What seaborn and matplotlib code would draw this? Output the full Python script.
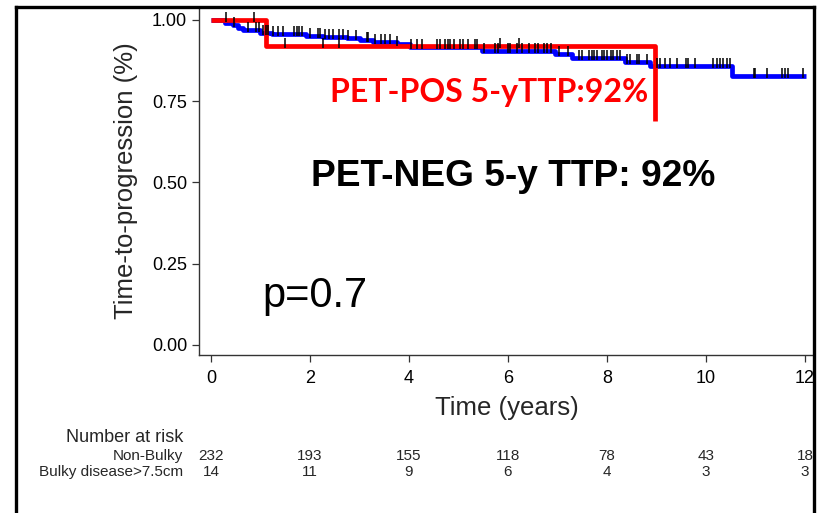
import numpy as np
import pandas as pd
import matplotlib
matplotlib.use("Agg")
import matplotlib.pyplot as plt
import seaborn as sns
from matplotlib.lines import Line2D
from matplotlib.path import Path
from matplotlib.transforms import blended_transform_factory

# Kaplan-Meier step curves (time in years, probability free of progression)
neg_times = [0.0, 0.28, 0.45, 0.55, 0.65, 0.99, 1.23, 1.93, 2.27, 2.74, 3.01,
             3.28, 3.75, 4.02, 5.47, 6.95, 7.29, 8.36, 8.87, 10.52, 12.02]
neg_surv = [1.000, 0.992, 0.985, 0.975, 0.969, 0.961, 0.957, 0.952, 0.948,
            0.944, 0.938, 0.932, 0.926, 0.916, 0.906, 0.894, 0.882, 0.870,
            0.857, 0.829, 0.829]

pos_times = [0.0, 1.12, 8.97]
pos_surv = [1.00, 0.92, 0.69]

# Censoring times
neg_censor = [0.47, 0.75, 0.92, 0.98, 1.06, 1.11, 1.16, 1.25, 1.36, 1.46, 1.68,
              1.73, 1.78, 1.83, 2.00, 2.17, 2.20, 2.30, 2.39, 2.46, 2.59, 2.66,
              2.77, 2.94, 3.15, 3.18, 3.31, 3.43, 3.52, 3.62, 3.75, 4.05, 4.16,
              4.26, 4.56, 4.63, 4.73, 4.79, 4.83, 4.90, 5.03, 5.10, 5.20, 5.33,
              5.37, 5.52, 5.74, 5.80, 6.01, 6.05, 6.18, 6.28, 6.43, 6.55, 6.61,
              6.73, 6.79, 6.86, 7.04, 7.22, 7.44, 7.49, 7.64, 7.69, 7.74, 7.80,
              7.89, 7.94, 7.99, 8.08, 8.13, 8.20, 8.26, 8.40, 8.46, 8.60, 8.65,
              8.81, 9.00, 9.07, 9.17, 9.27, 9.41, 9.60, 9.64, 9.78, 10.15, 10.22,
              10.28, 10.35, 10.42, 10.48, 10.96, 10.99, 11.23, 11.53, 11.60,
              11.66, 11.95]
pos_censor = [0.31, 0.87, 1.49, 2.27, 2.58, 5.84, 6.22]

# Number at risk table
risk_years = [0, 2, 4, 6, 8, 10, 12]
risk_nonbulky = [232, 193, 155, 118, 78, 43, 18]
risk_bulky = [14, 11, 9, 6, 4, 3, 3]
risk_groups = ["Non-Bulky", "Bulky disease>7.5cm"]


def step_at(times, surv, t):
    idx = np.searchsorted(np.asarray(times), np.asarray(t), side="right") - 1
    return np.asarray(surv)[idx]


sns.set_theme(style="white")
plt.rcParams["font.family"] = ["Liberation Sans", "DejaVu Sans"]

W, H = 818, 513
fig = plt.figure(figsize=(W / 100, H / 100), dpi=100)
ax = fig.add_axes([199 / W, 1 - 355 / H, (814 - 199) / W, (355 - 7) / H])

neg_df = pd.DataFrame({"time": neg_times, "surv": neg_surv})
pos_df = pd.DataFrame({"time": pos_times, "surv": pos_surv})

sns.lineplot(data=neg_df, x="time", y="surv", ax=ax, color="#0000ff",
             linewidth=3.4, drawstyle="steps-post", estimator=None,
             solid_capstyle="butt", zorder=2)
sns.lineplot(data=pos_df, x="time", y="surv", ax=ax, color="#ff0000",
             linewidth=3.4, drawstyle="steps-post", estimator=None,
             solid_capstyle="butt", zorder=3)

tick_marker = Path([(0, -0.3), (0, 1.0)], [Path.MOVETO, Path.LINETO])
sns.scatterplot(x=neg_censor, y=step_at(neg_times, neg_surv, neg_censor),
                ax=ax, marker=tick_marker, s=130, color="black",
                edgecolor="black", linewidth=1.1, zorder=4)
sns.scatterplot(x=pos_censor, y=step_at(pos_times, pos_surv, pos_censor),
                ax=ax, marker=tick_marker, s=130, color="black",
                edgecolor="black", linewidth=1.1, zorder=4)

ax.set_xlim(-0.24, 12.18)
ax.set_ylim(-0.031, 1.04)
ax.set_xticks(risk_years)
ax.set_yticks([0, 0.25, 0.5, 0.75, 1.0])
ax.set_yticklabels(["0.00", "0.25", "0.50", "0.75", "1.00"])
ax.tick_params(axis="both", which="major", direction="out", length=5,
               width=0.9, color="#333333", labelsize=13, labelcolor="black",
               bottom=True, left=True)
ax.tick_params(axis="x", pad=6)
for side in ("top", "right"):
    ax.spines[side].set_visible(False)
for side in ("left", "bottom"):
    ax.spines[side].set_color("#333333")
    ax.spines[side].set_linewidth(1.0)

ax.set_xlabel("Time (years)", fontsize=18.5, labelpad=6)
ax.set_ylabel("Time-to-progression (%)", fontsize=18.5, labelpad=10)

ax.text(8.83, 0.748, "PET-POS 5-yTTP:92%", color="#ff0000", fontsize=23,
        fontweight="bold", family=["Lato", "DejaVu Sans"], ha="right",
        va="baseline")
ax.text(2.02, 0.489, "PET-NEG 5-y TTP: 92%", color="black", fontsize=26.7,
        fontweight="bold", ha="left", va="baseline")
ax.text(1.03, 0.117, "p=0.7", color="black", fontsize=30, ha="left",
        va="baseline")

# Number at risk table below the axis
tr = blended_transform_factory(ax.transData, fig.transFigure)
fig.text(183 / W, 1 - 438 / H, "Number at risk", fontsize=13, ha="right",
         va="center")
row_y = [1 - 456 / H, 1 - 472 / H]
for label, counts, y in zip(risk_groups, [risk_nonbulky, risk_bulky], row_y):
    fig.text(183 / W, y, label, fontsize=11, ha="right", va="center")
    for t, n in zip(risk_years, counts):
        ax.text(t, y, str(n), transform=tr, fontsize=11, ha="center",
                va="center", clip_on=False)

# Outer frame
frame_kw = dict(color="black", linewidth=2.4, transform=fig.transFigure,
                solid_capstyle="projecting")
fig.add_artist(Line2D([16 / W, 16 / W], [0, 1 - 7 / H], **frame_kw))
fig.add_artist(Line2D([16 / W, 814 / W], [1 - 7 / H, 1 - 7 / H], **frame_kw))
fig.add_artist(Line2D([814 / W, 814 / W], [0, 1 - 7 / H], **frame_kw))

fig.savefig("out.png", dpi=100, facecolor="white")
